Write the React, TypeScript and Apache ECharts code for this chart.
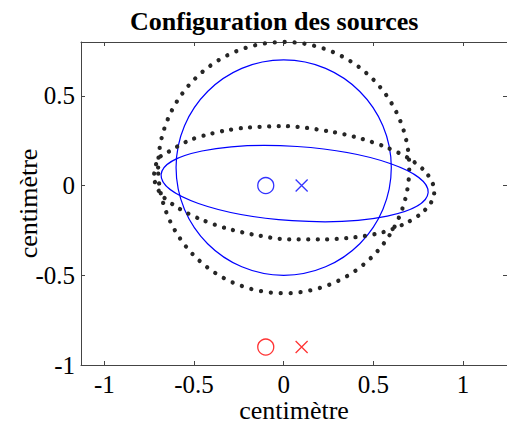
import React, { useEffect, useRef } from "react";
import * as echarts from "echarts";

const titleText = "Configuration des sources";
const axisName = "centimètre";
const xTicks = [-1, -0.5, 0, 0.5, 1];
const yTicks = [-1, -0.5, 0, 0.5];
const xRange = [-1.13, 1.245];
const yRange = [-1, 0.8];

// ellipse outlines: [cx, cy, rx, ry, angleDeg]
const dottedCircle = [0, 0.1, 0.7, 0.7, 0];
const blueCircle = [0, 0.1, 0.6, 0.6, 0];
const blueEllipse = [0.061, 0.011, 0.746, 0.207, -3.84];

// dotted asymmetric contour
const contourX = [
  -0.722, -0.7, -0.65, -0.594, -0.517, -0.428, -0.328, -0.217, 0.006, 0.267, 0.433, 0.578,
  0.7, 0.789, 0.833, 0.839, 0.822, 0.767, 0.678, 0.55, 0.389, 0.217, 0.033, -0.144, -0.317,
  -0.461, -0.583, -0.678, -0.717, -0.722,
];
const contourY = [
  0.067, 0.15, 0.183, 0.217, 0.256, 0.283, 0.306, 0.322, 0.331, 0.3, 0.261, 0.211, 0.15,
  0.078, 0.006, -0.044, -0.094, -0.156, -0.211, -0.261, -0.289, -0.3, -0.3, -0.278, -0.239,
  -0.189, -0.128, -0.056, 0.017, 0.067,
];

const blueCircleMarks = [[-0.1, 0]];
const blueCrossMarks = [[0.1, 0]];
const redCircleMarks = [[-0.1, -0.9]];
const redCrossMarks = [[0.1, -0.9]];

const FONT = "Liberation Serif";
const AXIS_COLOR = "#444";
const DOT_COLOR = "#262626";
const CROSS = "path://M0,0L10,10M10,0L0,10";

function ellipseSeries(data: number[], color: string, width: number, dash: number[] | null) {
  return {
    type: "custom",
    xAxisIndex: 0,
    yAxisIndex: 0,
    clip: false,
    silent: true,
    encode: { x: 0, y: 1 },
    data: [data],
    renderItem: (_params: any, api: any) => {
      const c = api.coord([api.value(0), api.value(1)]);
      const s = api.size([api.value(2), api.value(3)]);
      return {
        type: "ellipse",
        x: c[0],
        y: c[1],
        rotation: (api.value(4) * Math.PI) / 180,
        shape: { cx: 0, cy: 0, rx: s[0], ry: s[1] },
        style: {
          fill: "none",
          stroke: color,
          lineWidth: width,
          lineDash: dash || undefined,
          lineCap: "round",
        },
      };
    },
  };
}

function markSeries(data: number[][], symbol: string, color: string, size: number) {
  return {
    type: "scatter",
    xAxisIndex: 0,
    yAxisIndex: 0,
    symbol,
    symbolSize: size,
    data,
    itemStyle: { color: "none", borderColor: color, borderWidth: 1.3 },
  };
}

export default function App() {
  const ref = useRef<HTMLDivElement>(null);
  useEffect(() => {
    if (!ref.current) return;
    const chart = echarts.init(ref.current, null, { renderer: "svg" });
    const tickLabel = { fontFamily: FONT, fontSize: 25, color: "#000" };
    const baseAxis = {
      type: "value",
      splitLine: { show: false },
      axisLine: { show: true, onZero: false, lineStyle: { color: AXIS_COLOR, width: 1 } },
    };
    chart.setOption({
      animation: false,
      backgroundColor: "#fff",
      title: {
        text: titleText,
        left: 125,
        top: 3,
        textStyle: { fontFamily: FONT, fontSize: 26, fontWeight: "bold", color: "#000" },
      },
      grid: { left: 81, right: 0, top: 42, bottom: 58, outerBoundsMode: "none", containLabel: false },
      xAxis: [
        {
          ...baseAxis,
          position: "bottom",
          min: xRange[0],
          max: xRange[1],
          axisTick: { show: true, inside: true, length: 4, customValues: xTicks, lineStyle: { color: AXIS_COLOR } },
          axisLabel: { ...tickLabel, customValues: xTicks, margin: 7 },
          name: axisName,
          nameLocation: "middle",
          nameGap: 32,
          nameMoveOverlap: false,
          nameTextStyle: { fontFamily: FONT, fontSize: 26, color: "#000", verticalAlign: "top" },
        },
        {
          ...baseAxis,
          position: "top",
          min: xRange[0],
          max: xRange[1],
          axisTick: { show: true, inside: true, length: 4, customValues: xTicks, lineStyle: { color: AXIS_COLOR } },
          axisLabel: { show: false },
        },
      ],
      yAxis: [
        {
          ...baseAxis,
          position: "left",
          min: yRange[0],
          max: yRange[1],
          axisTick: { show: true, inside: true, length: 4, customValues: yTicks, lineStyle: { color: AXIS_COLOR } },
          axisLabel: { ...tickLabel, customValues: yTicks, margin: 6 },
          name: axisName,
          nameLocation: "middle",
          nameGap: 40,
          nameMoveOverlap: false,
          nameTextStyle: { fontFamily: FONT, fontSize: 26, color: "#000", verticalAlign: "bottom" },
        },
        {
          ...baseAxis,
          position: "right",
          min: yRange[0],
          max: yRange[1],
          axisTick: { show: true, inside: true, length: 4, customValues: yTicks, lineStyle: { color: AXIS_COLOR } },
          axisLabel: { show: false },
        },
      ],
      series: [
        ellipseSeries(dottedCircle, DOT_COLOR, 4.3, [0.01, 9.9]),
        {
          type: "line",
          xAxisIndex: 0,
          yAxisIndex: 0,
          data: contourX.map((x, i) => [x, contourY[i]]),
          smooth: 0.3,
          symbol: "none",
          silent: true,
          lineStyle: { color: DOT_COLOR, width: 4.3, type: [0.01, 9.5], cap: "round" },
        },
        ellipseSeries(blueCircle, "#0000ff", 1.2, null),
        ellipseSeries(blueEllipse, "#0000ff", 1.2, null),
        markSeries(blueCircleMarks, "circle", "#0000ff", 16),
        markSeries(blueCrossMarks, CROSS, "#0000ff", 12),
        markSeries(redCircleMarks, "circle", "#ff0000", 16),
        markSeries(redCrossMarks, CROSS, "#ff0000", 12),
      ],
    });
    return () => chart.dispose();
  }, []);
  return (
    <div
      ref={ref}
      style={{ position: "fixed", left: 0, top: 0, width: 507, height: 423, background: "#fff" }}
    />
  );
}
